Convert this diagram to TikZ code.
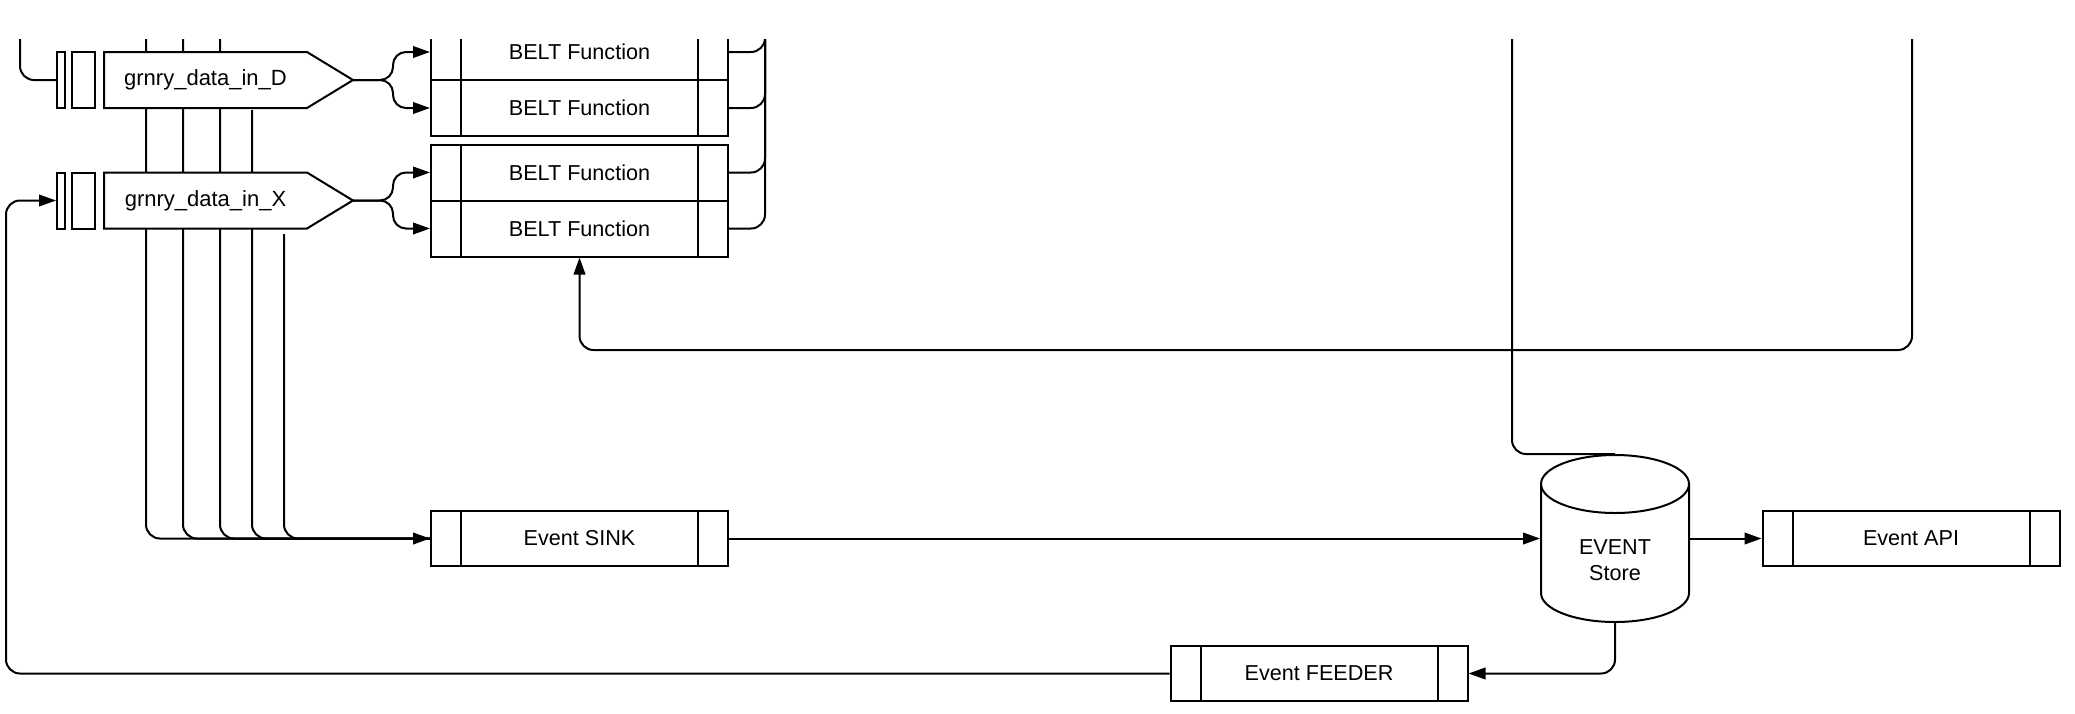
\documentclass[tikz,border=0pt]{standalone}
\usepackage{fontspec}
\setmainfont{Liberation Sans}
\usetikzlibrary{arrows.meta,calc}
\begin{document}
\begin{tikzpicture}[x=0.5pt,y=-0.5pt,
  font=\fontsize{10.8pt}{13pt}\selectfont,
  line width=1pt,
  conn/.style={draw, line width=1pt, rounded corners=7pt},
  arr/.style={conn, -{Triangle[length=8.5pt,width=5.8pt]}},
  fork/.style={arr, rounded corners=6.5pt},
  shapeline/.style={draw, line width=1pt, fill=white},
  procbox/.style={draw, fill=white, line width=1pt, inner sep=0pt,
    minimum width=148.5pt, minimum height=28pt,
    path picture={\draw[line width=1pt]
      ([xshift=15pt]path picture bounding box.north west) -- ([xshift=15pt]path picture bounding box.south west)
      ([xshift=-15pt]path picture bounding box.north east) -- ([xshift=-15pt]path picture bounding box.south east);}},
  evbox/.style={procbox, minimum height=27.5pt},
  port/.style={draw, fill=white, line width=1pt, inner sep=0pt, minimum height=28pt},
  txt/.style={inner sep=0pt}
]
\useasboundingbox (0,0) rectangle (2075,713);
\begin{scope}
\clip (-20,39) rectangle (2100,760);

% boxes
\node[procbox] (bD1) at (579.5,52) {BELT Function};
\node[procbox] (bD2) at (579.5,108) {BELT Function};
\node[procbox] (bX1) at (579.5,172.5) {BELT Function};
\node[procbox] (bX2) at (579.5,228.5) {BELT Function};
\node[evbox] (sink) at (579.5,538.5) {Event SINK};
\node[evbox] (api) at (1911,538.5) {Event API};
\node[evbox] (feeder) at (1319,673.5) {Event FEEDER};
\node[inner sep=0pt, minimum width=74pt, minimum height=83.5pt] (store) at (1615,538.5) {};

% free ends
\coordinate (c1) at (146,20);
\coordinate (c2) at (183,20);
\coordinate (c3) at (220,20);
\coordinate (c4) at (252,110);
\coordinate (c5) at (284,234);
\coordinate (tl) at (20,20);
\coordinate (rb) at (765,20);
\coordinate (rt) at (1912,20);
\coordinate (rc) at (1912,350);
\coordinate (mt) at (1512,20);
\coordinate (lrail) at (6,400);
\coordinate (tipD) at (353,80);
\coordinate (tipX) at (353,200.5);

% bus lines to sink
\draw[arr] (c1) |- (sink.west);
\draw[conn] (c2) |- (sink.west);
\draw[conn] (c3) |- (sink.west);
\draw[conn] (c4) |- (sink.west);
\draw[conn] (c5) |- (sink.west);

% pentagons
\draw[shapeline] (104,52) -- (307,52) -- (tipD) -- (307,108) -- (104,108) -- cycle;
\draw[shapeline] (104,172.5) -- (307,172.5) -- (tipX) -- (307,228.5) -- (104,228.5) -- cycle;
\node[txt] (dinD) at (205.5,80) {\fontsize{11pt}{13pt}\selectfont grnry\_data\_in\_D};
\node[txt] (dinX) at (205.5,200.5) {\fontsize{11pt}{13pt}\selectfont grnry\_data\_in\_X};

% ports
\node[port, minimum width=4pt] (pDa) at (61,80) {};
\node[port, minimum width=11.5pt] (pDb) at (83.5,80) {};
\node[port, minimum width=4pt] (pXa) at (61,200.5) {};
\node[port, minimum width=11.5pt] (pXb) at (83.5,200.5) {};

% input from top-left
\draw[conn] (tl) |- (pDa.west);

% forks
\draw[fork] (tipD) -- ++(40,0) |- (bD1.west);
\draw[fork] (tipD) -- ++(40,0) |- (bD2.west);
\draw[fork] (tipX) -- ++(40,0) |- (bX1.west);
\draw[fork] (tipX) -- ++(40,0) |- (bX2.west);

% right bus
\draw[conn] (bD1.east) -| (rb);
\draw[conn] (bD2.east) -| (rb);
\draw[conn] (bX1.east) -| (rb);
\draw[conn] (bX2.east) -| (rb);

% return line
\draw[arr] (rt) -- (rc) -| (bX2.south);
\draw[conn] (mt) |- (store.north);

% cylinder
\draw[shapeline] (1541,484) -- (1541,593) arc (180:360:37pt and 14.5pt) -- (1689,484) arc (0:180:37pt and 14.5pt) -- cycle;
\draw[line width=1pt] (1541,484) arc (180:360:37pt and 14.5pt);
\node[txt, align=center] (storetxt) at (1615,560) {EVENT\\Store};

% flows
\draw[arr] (sink.east) -- (store.west);
\draw[arr] (store.east) -- (api.west);
\draw[arr] (store.south) |- (feeder.east);
\draw[arr] (feeder.west) -| (lrail) |- (pXa.west);
\end{scope}
\end{tikzpicture}
\end{document}
